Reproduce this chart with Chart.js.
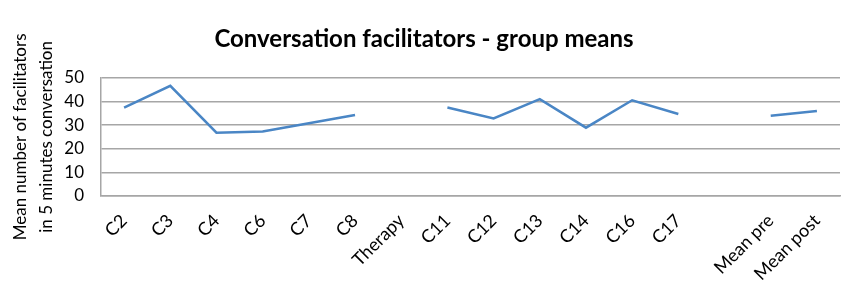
<!DOCTYPE html>
<html lang="en">
<head>
    <meta charset="UTF-8">
    <title>Conversation facilitators - group means</title>
    <script src="https://cdn.jsdelivr.net/npm/chart.js"></script>
    <style>
        body { margin: 0; background: #fff; }
        #wrap { width: 850px; height: 288px; position: relative; }
    </style>
</head>
<body>
<div id="wrap"><canvas id="chart"></canvas></div>
<script>
    // categories (the empty one is the gap before the means)
    const categories = ['C2', 'C3', 'C4', 'C6', 'C7', 'C8', 'Therapy', 'C11', 'C12', 'C13', 'C14', 'C16', 'C17', '', 'Mean pre', 'Mean post'];
    // group means, null = no point
    const facilitators = [37.4, 46.6, 26.8, 27.3, 30.8, 34.3, null, 37.4, 32.8, 41.0, 28.9, 40.5, 34.7, null, 33.9, 36.0];
    const yTicks = [0, 10, 20, 30, 40, 50];

    const font = "Lato, 'Open Sans', sans-serif";

    new Chart(document.getElementById('chart'), {
        type: 'line',
        data: {
            labels: categories,
            datasets: [{
                data: facilitators,
                borderColor: '#4a86c5',
                borderWidth: 2.5,
                pointRadius: 0,
                tension: 0,
                spanGaps: false
            }]
        },
        options: {
            responsive: true,
            maintainAspectRatio: false,
            animation: false,
            layout: { padding: { left: 8, right: 10, top: 0, bottom: 0 } },
            plugins: {
                legend: { display: false },
                tooltip: { enabled: false },
                title: {
                    display: true,
                    text: 'Conversation facilitators - group means',
                    color: '#000',
                    font: { family: font, size: 24, weight: 'bold' },
                    padding: { top: 25, bottom: 24 }
                }
            },
            scales: {
                x: {
                    offset: true,
                    afterFit: axis => { axis.height = 92; },
                    grid: { display: false, drawTicks: false },
                    border: { color: '#a6a6a6', width: 1.5 },
                    ticks: {
                        color: '#000',
                        font: { family: font, size: 18 },
                        maxRotation: 45,
                        minRotation: 45,
                        autoSkip: false,
                        padding: 14
                    }
                },
                y: {
                    min: 0,
                    max: 50,
                    afterFit: axis => { axis.width = 93; },
                    afterBuildTicks: axis => { axis.ticks = yTicks.map(v => ({ value: v })); },
                    grid: { color: '#a6a6a6', lineWidth: 1.5, drawTicks: false },
                    border: { color: '#a6a6a6', width: 1.5 },
                    ticks: {
                        color: '#000',
                        font: { family: font, size: 17 },
                        padding: 17
                    },
                    title: {
                        display: true,
                        text: ['Mean number of facilitators', 'in 5 minutes conversation'],
                        color: '#000',
                        font: { family: font, size: 17, lineHeight: 1.5 },
                        padding: { top: 0, bottom: 0 }
                    }
                }
            }
        }
    });
</script>
</body>
</html>
